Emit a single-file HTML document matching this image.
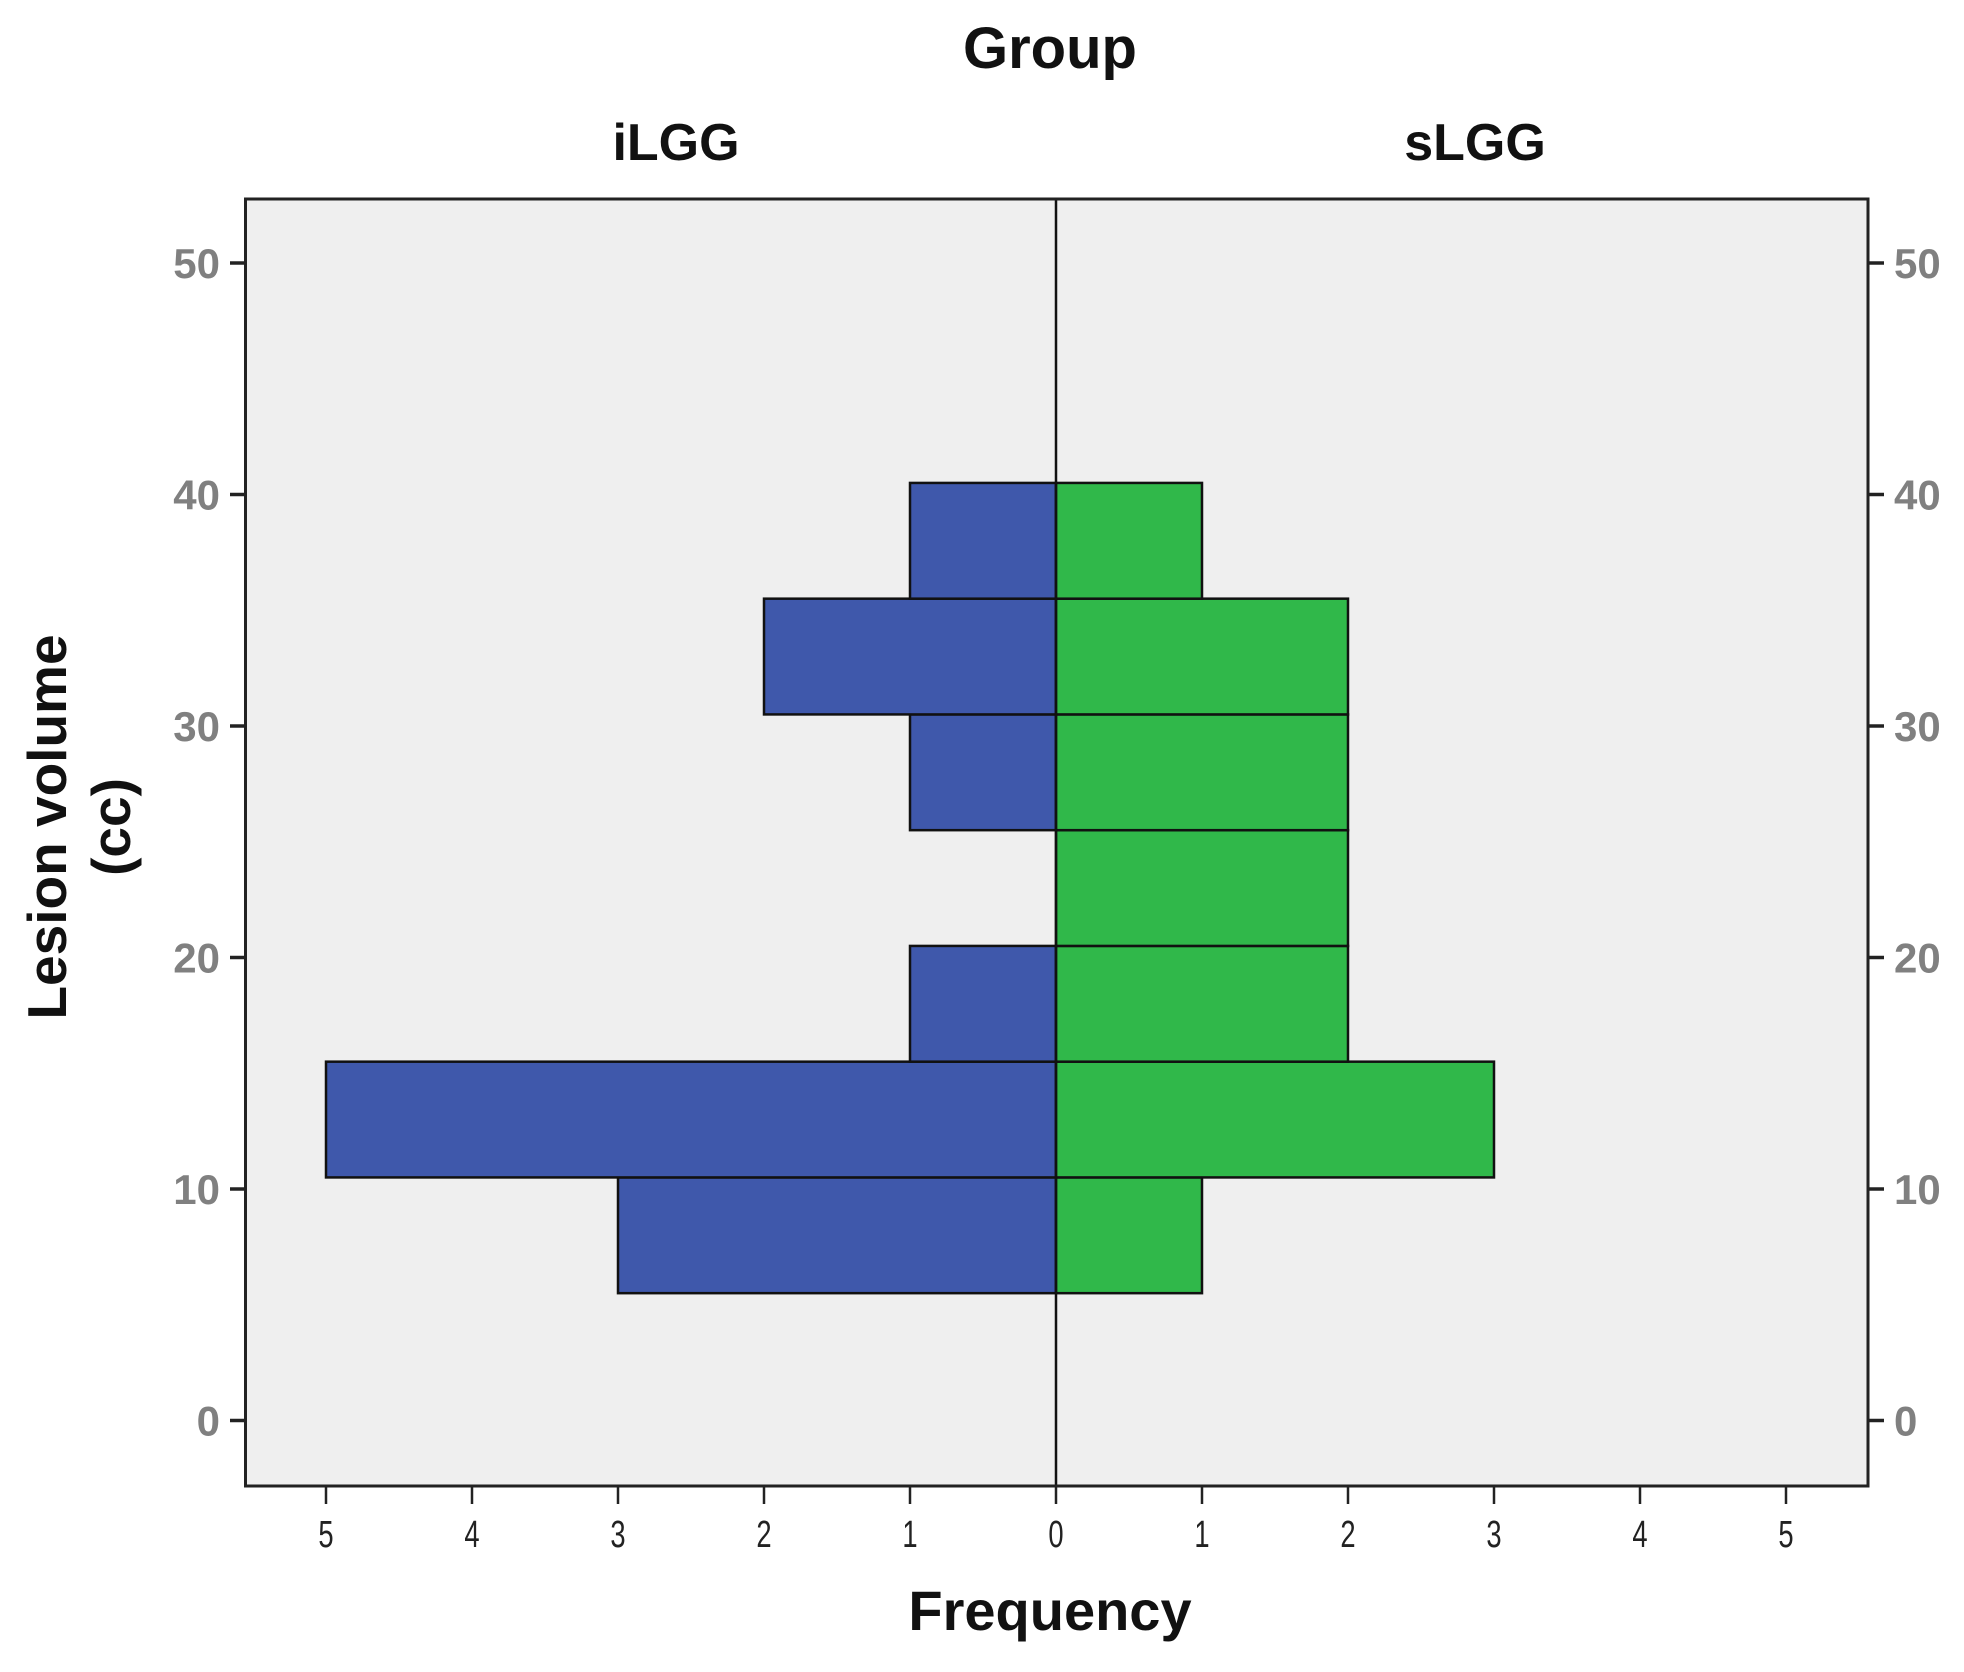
<!DOCTYPE html>
<html><head><meta charset="utf-8"><style>
body{margin:0;background:#fff;}
svg{display:block;font-family:"Liberation Sans",Arial,sans-serif;}
</style></head><body>
<svg id="chart" width="1964" height="1672" viewBox="0 0 1964 1672">
<rect x="245.5" y="199" width="1622.5" height="1287" fill="#efefef"/>
<g id="bars"></g>
<line x1="1056" y1="199" x2="1056" y2="1486" stroke="#111" stroke-width="2.5"/>
<rect x="245.5" y="199" width="1622.5" height="1287" fill="none" stroke="#222" stroke-width="3"/>
<g id="axes"></g>
<text x="1050" y="68" font-size="58" font-weight="bold" text-anchor="middle" fill="#111">Group</text>
<text x="676" y="160" font-size="52" font-weight="bold" text-anchor="middle" fill="#111">iLGG</text>
<text x="1475" y="160" font-size="52" font-weight="bold" text-anchor="middle" fill="#111">sLGG</text>
<text x="1050" y="1630" font-size="56" font-weight="bold" text-anchor="middle" fill="#111">Frequency</text>
<g transform="translate(66,827) rotate(-90)">
<text x="0" y="0" font-size="55" font-weight="bold" text-anchor="middle" fill="#111">Lesion volume</text>
<text x="0" y="64" font-size="55" font-weight="bold" text-anchor="middle" fill="#111">(cc)</text>
</g>
</svg>
<script>
const binStarts = [5.5, 10.5, 15.5, 20.5, 25.5, 30.5, 35.5];
const binWidth = 5;
const iLGGCounts = [3, 5, 1, 0, 1, 2, 1];
const sLGGCounts = [1, 3, 2, 2, 2, 2, 1];
const yTicks = [0, 10, 20, 30, 40, 50];
const xTicks = [5, 4, 3, 2, 1, 0, 1, 2, 3, 4, 5];
const xTickSigned = [-5, -4, -3, -2, -1, 0, 1, 2, 3, 4, 5];

const NS = 'http://www.w3.org/2000/svg';
function xs(v){ return 1056 + v * 146; }
function ys(v){ return 1420.5 - v * 23.15; }
function mk(tag, attrs, parent){ const e = document.createElementNS(NS, tag); for (const k in attrs) e.setAttribute(k, attrs[k]); parent.appendChild(e); return e; }

const bars = document.getElementById('bars');
binStarts.forEach((b, i) => {
  const y1 = ys(b + binWidth), y0 = ys(b);
  if (iLGGCounts[i] > 0) {
    const r = mk('rect', {x: xs(-iLGGCounts[i]), y: y1, width: xs(0) - xs(-iLGGCounts[i]), height: y0 - y1, fill: '#3f58ab', stroke: '#111', 'stroke-width': 2.5}, bars);
    
    
  }
  if (sLGGCounts[i] > 0) {
    const r = mk('rect', {x: xs(0), y: y1, width: xs(sLGGCounts[i]) - xs(0), height: y0 - y1, fill: '#30b84a', stroke: '#111', 'stroke-width': 2.5}, bars);
    
    
  }
});

const axes = document.getElementById('axes');
yTicks.forEach(t => {
  const y = ys(t);
  mk('line', {x1: 230, y1: y, x2: 245.5, y2: y, stroke: '#222', 'stroke-width': 3.5}, axes);
  mk('line', {x1: 1868, y1: y, x2: 1884, y2: y, stroke: '#222', 'stroke-width': 3.5}, axes);
  const l = mk('text', {x: 220, y: y + 15, 'font-size': 42, 'font-weight': 'bold', fill: '#808080', 'text-anchor': 'end'}, axes);
  l.textContent = t;
  
  
  const r = mk('text', {x: 1894, y: y + 15, 'font-size': 42, 'font-weight': 'bold', fill: '#808080', 'text-anchor': 'start'}, axes);
  r.textContent = t;
  
  
});
xTickSigned.forEach((v, i) => {
  const x = xs(v);
  mk('line', {x1: x, y1: 1486, x2: x, y2: 1504, stroke: '#222', 'stroke-width': 2.5}, axes);
  const l = mk('text', {x: x, y: 1547, 'font-size': 38, fill: '#222', 'text-anchor': 'middle', transform: 'translate(' + x + ',0) scale(0.72,1) translate(' + (-x) + ',0)'}, axes);
  l.textContent = xTicks[i];
  
  
});
</script>
</body></html>
